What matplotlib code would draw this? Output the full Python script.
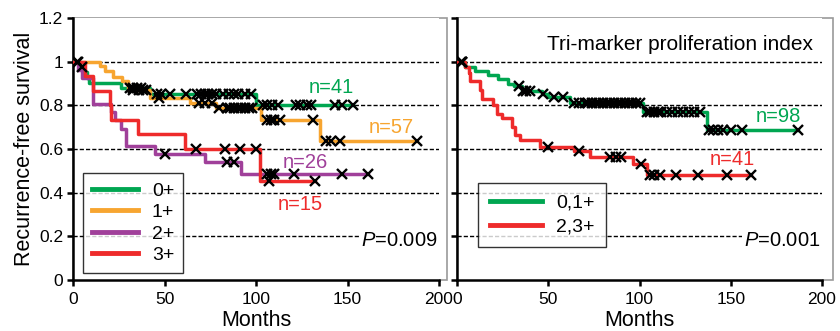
import numpy as np
import matplotlib
matplotlib.use("Agg")
import matplotlib.pyplot as plt
from matplotlib.patches import Rectangle

plt.rcParams["font.family"] = ["Liberation Sans", "DejaVu Sans"]
plt.rcParams["mathtext.fontset"] = "custom"
plt.rcParams["mathtext.rm"] = "Liberation Sans"
plt.rcParams["mathtext.it"] = "Liberation Sans:italic"

# ── data ───────────────────────────────────────────────────────────────────
y_ticks = [0, 0.2, 0.4, 0.6, 0.8, 1.0, 1.2]
y_tick_labels = ["0", "0.2", "0.4", "0.6", "0.8", "1", "1.2"]
x_ticks = [0, 50, 100, 150, 200]

# left panel: marker score groups
g0_t = [0, 4, 6, 7.5, 9, 26, 42, 100]
g0_s = [1, 0.976, 0.951, 0.927, 0.902, 0.878, 0.854, 0.80]
g0_c = [3, 5, 31, 33, 35, 37, 46, 48, 53, 62, 68, 70, 72, 74, 76, 78, 82, 85,
        88, 90, 94, 97, 104, 106, 109, 112, 122, 124, 128, 130, 143, 147, 153]

g1_t = [0, 15, 17.5, 22, 26.6, 30.3, 42, 64, 78, 103, 135]
g1_s = [1, 0.982, 0.955, 0.93, 0.91, 0.87, 0.835, 0.81, 0.79, 0.735, 0.635]
g1_c = [33, 36, 38, 40, 47, 69, 72, 76, 80, 84, 86, 88, 90, 92, 94, 96, 98,
        106, 108, 110, 113, 131, 138, 141, 146, 188]

g2_t = [0, 2.5, 5, 11, 21, 23, 26.5, 29, 45, 72, 92]
g2_s = [1, 0.962, 0.923, 0.808, 0.769, 0.731, 0.692, 0.615, 0.577, 0.54, 0.485]
g2_c = [50, 84, 88, 106, 108, 110, 121, 147, 161]

g3_t = [0, 6.5, 11, 20, 21, 35.6, 61, 102]
g3_s = [1, 0.933, 0.867, 0.80, 0.733, 0.667, 0.60, 0.455]
g3_c = [2, 67, 83, 91, 100, 107, 132]

left_labels = ["0+", "1+", "2+", "3+"]
left_n = ["n=41", "n=57", "n=26", "n=15"]

# right panel: tri-marker proliferation index
lo_t = [0, 4.4, 10, 17, 22.6, 28, 31, 35.4, 46.4, 50, 62, 102, 137]
lo_s = [1, 0.975, 0.955, 0.937, 0.92, 0.90, 0.887, 0.867, 0.852, 0.836, 0.812,
        0.768, 0.685]
lo_c = [2, 3, 34, 36, 38, 40, 47, 53, 58, 64, 67, 70, 72, 74, 76, 78, 80, 82,
        84, 86, 88, 90, 92, 94, 96, 98, 100, 104, 106, 108, 110, 112, 115, 118,
        121, 124, 127, 130, 133, 138, 140, 143, 146, 150, 156, 187]

hi_t = [0, 4.4, 6.6, 7, 12.6, 13.5, 20, 22, 24.5, 30, 32, 34.5, 45.5, 64, 73,
        96.5, 104]
hi_s = [1, 0.975, 0.95, 0.91, 0.87, 0.83, 0.80, 0.76, 0.74, 0.70, 0.665, 0.64,
        0.61, 0.59, 0.565, 0.53, 0.48]
hi_c = [3, 50, 67, 84, 87, 90, 101, 106, 108, 111, 120, 132, 148, 161]

right_labels = ["0,1+", "2,3+"]
right_n = ["n=98", "n=41"]

GREEN, ORANGE, PURPLE, RED = "#00a651", "#f7a530", "#a0409a", "#ee2b2b"


def km_curve(ax, t, s, c, color, label):
    end = max(max(c), t[-1])
    xs = list(t) + [end]
    ys = list(s) + [s[-1]]
    ax.step(xs, ys, where="post", color=color, lw=2.5, label=label, zorder=3)
    idx = np.searchsorted(t, c, side="right") - 1
    ax.plot(c, np.array(s)[idx], "x", color="black", ms=7.5, mew=1.7, zorder=4)


def style_axes(ax, show_ylabels):
    ax.set_xlim(0, 200)
    ax.set_ylim(0, 1.2)
    ax.set_xticks(x_ticks)
    ax.set_yticks(y_ticks)
    ax.set_yticklabels(y_tick_labels if show_ylabels else [])
    for yv in y_ticks[1:-1]:
        ax.axhline(yv, color="black", lw=1, ls=(0, (3, 1.5)), zorder=1)
    for sp in ["top", "right"]:
        ax.spines[sp].set_visible(False)
    for sp in ["left", "bottom"]:
        ax.spines[sp].set_linewidth(1.8)
    ax.tick_params(axis="both", labelsize=12.5, width=1.8, length=4,
                   direction="out", pad=3)
    ax.tick_params(axis="x", pad=5)
    ax.set_xlabel("Months", fontsize=15.5, labelpad=2)


def p_label(ax, txt):
    ax.text(199, 0.183, txt, fontsize=14.5, ha="right", va="center",
            bbox=dict(fc="white", ec="none", pad=1), zorder=5)


def legend(ax, x, y, hl, pad, spacing):
    leg = ax.legend(loc="lower left", bbox_to_anchor=(x, y), borderaxespad=0,
                    fontsize=14, frameon=True, fancybox=False,
                    handlelength=hl, handletextpad=0.7, labelspacing=spacing,
                    borderpad=pad)
    leg.get_frame().set_edgecolor("black")
    leg.get_frame().set_linewidth(1)
    for h in leg.get_lines():
        h.set_linewidth(3.5)


fig = plt.figure(figsize=(8.4, 3.31), dpi=100)
W, H = 840, 331

axL = fig.add_axes([73 / W, (H - 280) / H, 366 / W, 262 / H])
axR = fig.add_axes([457 / W, (H - 280) / H, 365 / W, 262 / H])

# gray plot-area frames
for x0, x1 in [(73, 447), (457, 833)]:
    fig.add_artist(Rectangle((x0 / W, (H - 280) / H), (x1 - x0) / W, 262 / H,
                             transform=fig.transFigure, fill=False,
                             ec="#9a9a9a", lw=1.2, zorder=0))

# left panel
style_axes(axL, True)
km_curve(axL, g0_t, g0_s, g0_c, GREEN, left_labels[0])
km_curve(axL, g1_t, g1_s, g1_c, ORANGE, left_labels[1])
km_curve(axL, g2_t, g2_s, g2_c, PURPLE, left_labels[2])
km_curve(axL, g3_t, g3_s, g3_c, RED, left_labels[3])
axL.set_ylabel("Recurrence-free survival", fontsize=15.5, labelpad=3)
for txt, col, x, y in zip(left_n, [GREEN, ORANGE, PURPLE, RED],
                          [141, 174, 127, 124], [0.88, 0.70, 0.537, 0.344]):
    axL.text(x, y, txt, color=col, fontsize=14.5, ha="center", va="center",
             zorder=5)
p_label(axL, "$\\it{P}$=0.009")
legend(axL, 0.027, 0.027, 2.4, 0.45, 0.2)

# right panel
style_axes(axR, False)
km_curve(axR, lo_t, lo_s, lo_c, GREEN, right_labels[0])
km_curve(axR, hi_t, hi_s, hi_c, RED, right_labels[1])
axR.text(195, 1.08, "Tri-marker proliferation index", fontsize=15, ha="right",
         va="center", bbox=dict(fc="white", ec="none", pad=1))
for txt, col, x, y in zip(right_n, [GREEN, RED], [176, 151], [0.75, 0.55]):
    axR.text(x, y, txt, color=col, fontsize=14.5, ha="center", va="center",
             zorder=5)
p_label(axR, "$\\it{P}$=0.001")
legend(axR, 0.0575, 0.126, 2.7, 0.6, 0.3)

fig.savefig("out.png", dpi=100)
